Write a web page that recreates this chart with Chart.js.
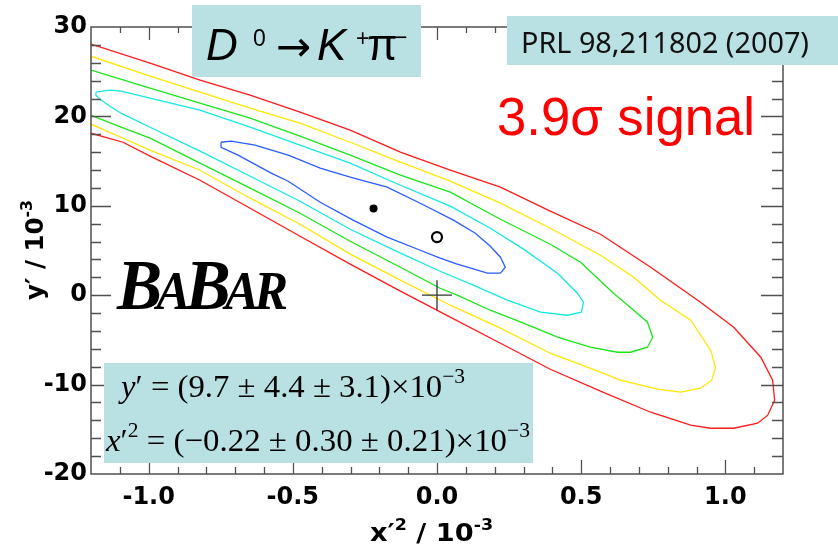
<!DOCTYPE html>
<html>
<head>
<meta charset="utf-8">
<script src="https://cdn.jsdelivr.net/npm/chart.js@4.4.0/dist/chart.umd.min.js"></script>
<style>
html,body{margin:0;padding:0;background:#ffffff;}
canvas{display:block;}
</style>
</head>
<body>
<canvas id="c" width="838" height="545" style="width:838px;height:545px"></canvas>
<script>
// ---- data (x'^2 in 1e-3, y' in 1e-3) ----
const redX = [-1.200,-0.995,-0.822,-0.648,-0.475,-0.301,-0.127,0.046,0.220,0.393,0.567,0.741,0.914,1.029,1.123,1.164,1.171,1.147,1.112,1.029,0.949,0.880,0.741,0.567,0.393,0.220,0.046,-0.127,-0.301,-0.475,-0.648,-0.822,-0.995,-1.089,-1.200];
const redY = [28.08,25.95,24.05,22.37,20.47,18.46,16.00,13.98,12.08,9.40,6.82,3.13,-0.78,-3.58,-6.94,-9.51,-11.74,-13.42,-14.32,-14.88,-14.88,-14.54,-13.09,-10.74,-8.28,-5.37,-2.46,0.45,3.47,6.60,9.73,12.86,15.55,17.11,18.12];

const yellowX = [-1.200,-0.995,-0.822,-0.648,-0.475,-0.301,-0.127,0.046,0.220,0.393,0.567,0.682,0.775,0.880,0.949,0.966,0.953,0.914,0.845,0.765,0.636,0.567,0.393,0.220,0.046,-0.127,-0.301,-0.475,-0.648,-0.822,-0.995,-1.096,-1.200];
const yellowY = [26.73,24.50,22.71,20.92,19.24,17.11,14.88,12.75,10.29,7.49,4.47,2.01,-0.56,-2.80,-6.15,-8.05,-9.51,-10.40,-10.85,-10.51,-9.51,-8.61,-6.49,-3.69,-1.12,1.68,4.59,7.94,10.85,13.98,16.22,17.67,19.13];

const greenX = [-1.200,-0.995,-0.822,-0.648,-0.475,-0.301,-0.127,0.046,0.220,0.393,0.498,0.612,0.682,0.730,0.748,0.730,0.671,0.626,0.532,0.418,0.300,0.185,0.070,0.011,-0.127,-0.301,-0.475,-0.648,-0.822,-0.995,-1.096,-1.200];
const greenY = [25.17,23.15,21.48,19.80,17.79,15.66,13.42,11.52,8.50,5.70,3.69,0.22,-1.68,-3.02,-4.70,-5.82,-6.38,-6.38,-5.82,-4.70,-3.13,-1.68,0.00,0.78,3.13,6.04,9.17,11.97,14.77,17.56,18.79,20.13];

const cyanX = [-1.183,-1.134,-1.096,-0.995,-0.822,-0.648,-0.475,-0.301,-0.127,0.046,0.185,0.300,0.418,0.487,0.508,0.501,0.452,0.359,0.244,0.126,0.011,-0.127,-0.301,-0.475,-0.648,-0.822,-0.995,-1.096,-1.134,-1.169,-1.183];
const cyanY = [22.71,22.93,22.82,22.04,20.69,18.79,16.78,14.77,12.30,9.96,7.49,5.15,2.46,0.22,-0.78,-1.90,-2.24,-1.90,-0.56,1.12,2.68,4.70,7.38,10.51,13.31,16.11,18.79,20.36,21.14,21.92,22.37];

const blueX = [-0.749,-0.714,-0.631,-0.516,-0.405,-0.301,-0.173,-0.058,0.057,0.133,0.185,0.220,0.237,0.220,0.175,0.070,0.011,-0.058,-0.173,-0.291,-0.405,-0.516,-0.575,-0.690,-0.749];
const blueY = [17.11,17.23,16.78,15.66,14.21,13.20,12.08,10.29,8.39,6.94,5.48,4.25,3.13,2.46,2.46,3.47,4.14,5.03,6.49,8.39,10.40,12.75,13.65,15.66,16.55];

const bestFitX = [-0.22], bestFitY = [9.7];
const altFitX = [0.0], altFitY = [6.5];
const noMixX = [0.0], noMixY = [0.0];

const xTickValues = [-1.0, -0.5, 0.0, 0.5, 1.0];
const yTickValues = [-20, -10, 0, 10, 20, 30];

// ---- helpers ----
function pts(xs, ys, close) {
  const p = xs.map((x, i) => ({x: x, y: ys[i]}));
  if (close) p.push({x: xs[0], y: ys[0]});
  return p;
}
function contour(label, xs, ys, color, close) {
  return {label, data: pts(xs, ys, close), showLine: true, fill: false, borderColor: color,
          borderWidth: 1.3, pointRadius: 0, tension: 0};
}
function richWidth(ctx, parts) {
  let w = 0;
  for (const p of parts) { ctx.font = p.f; w += ctx.measureText(p.t).width + (p.k || 0); }
  return w;
}
function drawRich(ctx, x, y, parts, targetW) {
  const w = richWidth(ctx, parts);
  const s = targetW ? targetW / w : 1;
  ctx.save();
  ctx.translate(x, y);
  ctx.scale(s, 1);
  ctx.textAlign = 'left';
  ctx.textBaseline = 'alphabetic';
  let cx = 0;
  for (const p of parts) {
    ctx.font = p.f;
    ctx.fillText(p.t, cx, p.dy || 0);
    cx += ctx.measureText(p.t).width + (p.k || 0);
  }
  ctx.restore();
}

const FRAME = '#505050';
const BOX = '#b9e0e3';

const framePlugin = {
  id: 'frame',
  afterDatasetsDraw(chart) {
    const {ctx, chartArea: a, scales: {x, y}} = chart;
    ctx.save();
    ctx.strokeStyle = FRAME;
    ctx.lineWidth = 1.5;
    ctx.strokeRect(a.left, a.top, a.right - a.left, a.bottom - a.top);
    ctx.lineWidth = 1.3;
    ctx.beginPath();
    for (let i = -11; i <= 11; i++) {
      const v = i / 10;
      const px = Math.round(x.getPixelForValue(v)) + 0.5;
      const major = (i % 5 === 0);
      ctx.moveTo(px, a.bottom); ctx.lineTo(px, a.bottom - (major ? 14 : 7));
      ctx.moveTo(px, a.top); ctx.lineTo(px, a.top + (major ? 13 : 6));
    }
    for (let i = -9; i <= 14; i++) {
      const v = i * 2;
      const py = Math.round(y.getPixelForValue(v)) + 0.5;
      const major = (v % 10 === 0);
      ctx.moveTo(a.left, py); ctx.lineTo(a.left + (major ? 20 : 10), py);
      ctx.moveTo(a.right, py); ctx.lineTo(a.right - (major ? 22 : 11), py);
    }
    ctx.stroke();
    ctx.restore();
  },
  afterDraw(chart) {
    const ctx = chart.ctx;
    ctx.save();
    // axis titles
    ctx.fillStyle = '#000';
    const b = 'bold 25px "DejaVu Sans"', bs = 'bold 16px "DejaVu Sans"';
    drawRich(ctx, 370, 541, [{t:'x', f:b}, {t:'\u2032', f:b}, {t:'2', f:bs, dy:-11}, {t:' / 10', f:b}, {t:'-3', f:bs, dy:-11}], 123);
    ctx.save();
    ctx.translate(43, 300);
    ctx.rotate(-Math.PI / 2);
    drawRich(ctx, 0, 0, [{t:'y', f:b}, {t:'\u2032', f:b}, {t:' / 10', f:b}, {t:'-3', f:bs, dy:-11}], 100);
    ctx.restore();

    // D0 -> K+ pi- box
    ctx.fillStyle = BOX;
    ctx.fillRect(192, 5, 229, 72);
    ctx.fillStyle = '#000';
    ctx.textBaseline = 'alphabetic';
    ctx.font = 'italic 44px "Liberation Sans"'; ctx.fillText('D', 206, 60);
    ctx.font = '23px "Liberation Sans"'; ctx.fillText('0', 253, 46);
    ctx.font = '42px "DejaVu Sans"'; ctx.fillText('\u2192', 276, 61);
    ctx.font = 'italic 44px "Liberation Sans"'; ctx.fillText('K', 317, 60);
    ctx.font = '23px "Liberation Sans"'; ctx.fillText('+', 356, 46);
    ctx.font = '44px "Liberation Sans"'; ctx.fillText('\u03c0', 367, 60);
    ctx.font = '23px "Liberation Sans"'; ctx.fillText('\u2212', 394, 45);

    // PRL box
    ctx.fillStyle = BOX;
    ctx.fillRect(507, 16, 331, 49);
    ctx.fillStyle = '#111';
    drawRich(ctx, 521, 53, [{t:'PRL 98,211802 (2007)', f:'29px "Noto Sans"'}], 288);

    // significance
    ctx.fillStyle = '#ff0000';
    drawRich(ctx, 497, 135, [{t:'3.9\u03c3 signal', f:'53px "Liberation Sans"'}], 258);

    // BaBar logo
    ctx.fillStyle = '#000';
    const L = 'italic bold 72px "Liberation Serif"', S = 'italic bold 54px "Liberation Serif"';
    drawRich(ctx, 117, 309, [{t:'B', f:L, k:-6}, {t:'A', f:S, k:-5}, {t:'B', f:L, k:-6}, {t:'A', f:S, k:-5}, {t:'R', f:S}], 171);

    // result box
    ctx.fillStyle = BOX;
    ctx.fillRect(104, 363, 429, 100);
    ctx.fillStyle = '#000';
    const s = '32px "Liberation Serif"', si = 'italic 32px "Liberation Serif"', ss = '21px "Liberation Serif"';
    drawRich(ctx, 121, 397, [{t:'y', f:si}, {t:'\u2032', f:s}, {t:' = (9.7 \u00b1 4.4 \u00b1 3.1)\u00d710', f:s}, {t:'\u22123', f:ss, dy:-14}], 344);
    drawRich(ctx, 106, 451, [{t:'x', f:si}, {t:'\u2032', f:s}, {t:'2', f:ss, dy:-14}, {t:' = (\u22120.22 \u00b1 0.30 \u00b1 0.21)\u00d710', f:s}, {t:'\u22123', f:ss, dy:-14}], 424);
    ctx.restore();
  }
};

const tickFont = {family: 'DejaVu Sans', weight: 'bold', size: 24};

new Chart(document.getElementById('c'), {
  type: 'scatter',
  data: {
    datasets: [
      {label: 'best fit', data: pts(bestFitX, bestFitY), pointRadius: 4, pointBackgroundColor: '#000', pointBorderColor: '#000', pointBorderWidth: 0, showLine: false},
      {label: 'alt fit', data: pts(altFitX, altFitY), pointRadius: 5, pointBackgroundColor: 'rgba(255,255,255,0)', pointBorderColor: '#000', pointBorderWidth: 2.2, showLine: false},
      {label: 'no mixing', data: pts(noMixX, noMixY), pointStyle: 'cross', pointRadius: 15, pointBorderColor: '#333', pointBorderWidth: 1.3, showLine: false},
      contour('1 sigma', blueX, blueY, '#2a5cff', true),
      contour('2 sigma', cyanX, cyanY, '#14e8e0', true),
      contour('3 sigma', greenX, greenY, '#19e619', false),
      contour('4 sigma', yellowX, yellowY, '#ffe600', false),
      contour('5 sigma', redX, redY, '#ff1a1a', false)
    ]
  },
  options: {
    responsive: false,
    animation: false,
    devicePixelRatio: 1,
    events: [],
    layout: {padding: {top: 27, right: 55, left: 0, bottom: 0}},
    plugins: {legend: {display: false}, tooltip: {enabled: false}},
    scales: {
      x: {
        type: 'linear', min: -1.2, max: 1.2,
        afterBuildTicks: s => { s.ticks = xTickValues.map(v => ({value: v})); },
        afterFit: s => { s.height = 71; },
        grid: {display: false, drawTicks: false},
        border: {display: false},
        ticks: {font: tickFont, color: '#000', padding: 9, autoSkip: false, maxRotation: 0,
                callback: v => Number(v).toFixed(1)}
      },
      y: {
        type: 'linear', min: -20, max: 30,
        afterBuildTicks: s => { s.ticks = yTickValues.map(v => ({value: v})); },
        afterFit: s => { s.width = 91; },
        grid: {display: false, drawTicks: false},
        border: {display: false},
        ticks: {font: tickFont, color: '#000', padding: 4, autoSkip: false,
                callback: v => String(v)}
      }
    }
  },
  plugins: [framePlugin]
});
</script>
</body>
</html>
